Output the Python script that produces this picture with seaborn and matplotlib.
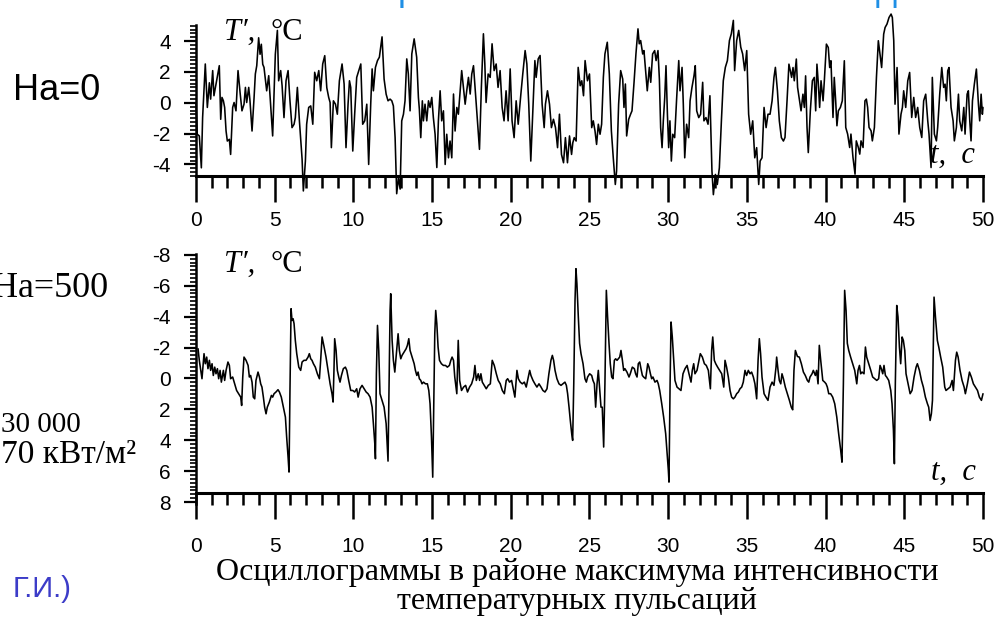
import numpy as np
import pandas as pd
import matplotlib
matplotlib.use("Agg")
import matplotlib.pyplot as plt
import seaborn as sns
from matplotlib.ticker import MultipleLocator, FixedLocator

# ---------------- data ----------------
top_t = [0.0, 0.08, 0.21, 0.34, 0.42, 0.59, 0.72, 0.85, 0.93, 1.06, 1.14, 1.27, 1.48, 1.57, 1.65, 1.74, 1.82, 1.91, 1.99, 2.12,
         2.20, 2.33, 2.42, 2.54, 2.67, 2.80, 2.92, 3.05, 3.14, 3.22, 3.35, 3.43, 3.56, 3.69, 3.77, 3.86, 3.98, 4.07, 4.15, 4.24,
         4.32, 4.49, 4.62, 4.75, 4.87, 5.04, 5.17, 5.25, 5.38, 5.47, 5.59, 5.72, 5.85, 5.97, 6.10, 6.23, 6.31, 6.44, 6.57, 6.74,
         6.82, 6.95, 7.03, 7.16, 7.29, 7.42, 7.54, 7.67, 7.80, 7.92, 8.05, 8.18, 8.31, 8.43, 8.52, 8.60, 8.73, 8.86, 8.98, 9.11,
         9.28, 9.41, 9.53, 9.66, 9.75, 9.83, 9.96, 10.08, 10.21, 10.34, 10.47, 10.59, 10.72, 10.85, 10.97, 11.10, 11.19, 11.27,
         11.40, 11.53, 11.65, 11.82, 11.95, 12.08, 12.20, 12.33,
         12.44, 12.54, 12.65, 12.75, 12.86, 12.97, 13.07, 13.18, 13.28, 13.39, 13.49, 13.60, 13.71, 13.86, 14.02, 14.13, 14.19,
         14.28, 14.38, 14.45, 14.55, 14.66, 14.77, 14.87, 14.98, 15.08, 15.19, 15.30, 15.40, 15.51, 15.61, 15.72, 15.83, 15.93,
         16.04, 16.14, 16.25, 16.36, 16.46, 16.57, 16.67, 16.78, 16.88, 16.99, 17.10, 17.20, 17.31, 17.42, 17.52, 17.63, 17.73,
         17.88, 18.01, 18.13, 18.26, 18.35, 18.43, 18.56, 18.69, 18.81, 18.94, 19.07, 19.19, 19.32, 19.45, 19.57, 19.70, 19.83,
         19.96, 20.08, 20.21, 20.34, 20.47, 20.64, 20.76, 20.91, 21.02, 21.14, 21.27, 21.40, 21.53, 21.61, 21.74, 21.86, 21.99,
         22.12, 22.20, 22.33, 22.46, 22.58, 22.71, 22.84, 22.97, 23.09, 23.22, 23.35, 23.47, 23.60, 23.73, 23.86, 23.94, 24.03,
         24.15, 24.28, 24.41, 24.51, 24.62, 24.72, 24.87, 25.00,
         25.14, 25.24, 25.35, 25.45, 25.56, 25.67, 25.77, 25.88, 25.98, 26.13, 26.26, 26.39, 26.51, 26.64, 26.72, 26.85, 26.98,
         27.11, 27.19, 27.28, 27.36, 27.49, 27.61, 27.70, 27.83, 27.95, 28.08, 28.16, 28.25, 28.38, 28.46, 28.55, 28.67, 28.80,
         28.89, 29.01, 29.14, 29.23, 29.35, 29.44, 29.52, 29.61, 29.69, 29.78, 29.86, 29.95, 30.03, 30.11, 30.20, 30.29, 30.41,
         30.54, 30.67, 30.75, 30.88, 30.96, 31.05, 31.17, 31.30, 31.39, 31.51, 31.64, 31.72, 31.81, 31.94, 32.06, 32.19, 32.27,
         32.40, 32.53, 32.65, 32.78, 32.87, 33.00, 33.12, 33.25, 33.38, 33.50, 33.63, 33.76, 33.89, 34.01, 34.14, 34.22, 34.35,
         34.48, 34.61, 34.73, 34.86, 34.99, 35.11, 35.24, 35.37, 35.50, 35.62, 35.75, 35.84, 35.96, 36.09, 36.22, 36.34, 36.47,
         36.60, 36.72, 36.81, 36.94, 37.06, 37.19, 37.32,
         37.42, 37.55, 37.67, 37.76, 37.84, 37.93, 38.01, 38.14, 38.22, 38.35, 38.44, 38.56, 38.65, 38.73, 38.82, 38.90, 39.03,
         39.16, 39.28, 39.37, 39.45, 39.54, 39.62, 39.71, 39.84, 39.92, 40.05, 40.17, 40.26, 40.34, 40.47, 40.55, 40.64, 40.72,
         40.81, 40.94, 41.06, 41.19, 41.28, 41.40, 41.53, 41.61, 41.74, 41.87, 41.95, 42.08, 42.17, 42.25, 42.38, 42.50, 42.59,
         42.67, 42.76, 42.89, 42.97, 43.10, 43.23, 43.35, 43.48, 43.56, 43.69, 43.78, 43.90, 44.03, 44.16, 44.24, 44.33, 44.41,
         44.54, 44.66, 44.79, 44.88, 44.96, 45.09, 45.22, 45.34, 45.47, 45.60, 45.72, 45.85, 45.98, 46.11, 46.23, 46.36, 46.49,
         46.57, 46.70, 46.78, 46.91, 47.04, 47.12, 47.25, 47.38, 47.50, 47.59, 47.67, 47.76, 47.84, 47.97, 48.10, 48.18, 48.31,
         48.44, 48.52, 48.65, 48.78, 48.86, 48.99, 49.07, 49.16, 49.24, 49.33, 49.45, 49.58, 49.71, 49.79, 49.88, 49.96, 50.00]
top_v = [0.0, -2.04, -2.15, -4.22, -0.96, 2.52, -0.30, 1.30, 0.24, 2.09, 0.46, 1.20, 2.41, -1.07, 0.35, 0.13, -0.30, -1.83, -2.48, -2.37,
         -3.35, -0.30, 0.02, -0.52, 2.09, 0.67, -0.52, -0.09, 1.0, 0.02, 1.0, 0.13, -1.83, 0.35, 1.87, 2.41, 4.22, 3.15, 3.80, 2.50,
         2.30, 0.78, 1.76, -0.30, -2.15, 3.15, 4.70, 1.43, 2.09, 1.11, -0.96, 1.43, 2.09, 0.13, -1.61, -1.39, -0.96, 1.0, -1.17, -3.65,
         -5.72, -3.78, -1.39, -0.30, -0.20, -1.39, 1.98, 1.43, 2.09, 0.78, 2.52, 3.06, 0.98, 0.35, 0.02, -2.91, 0.13, -0.09, -0.74, 1.43,
         2.52, 1.22, -2.91, -0.09, 1.43, 1.0, -3.13, -0.74, 1.65, 2.09, 2.52, -1.39, -1.17, -0.09, -4.0, -0.09, 2.20, 0.78,
         2.30, 2.74, 2.96, 4.28, 1.54, 0.56, 0.13, 0.24,
         0.13, -0.2, -2.26, -5.9, -4.87, -5.6, -1.17, -0.74, 0.13, 2.85, 1.87, -0.52, 3.17, 4.15, 2.96, 0.35, -0.41,
         -2.26, 0.13, -1.17, -0.09, -1.17, 0.13, -0.3, 0.35, -0.96, -2.04, -4.2, -1.17, 0.78, -1.17, -0.52, -4.0, -2.04,
         -3.57, -2.48, -3.57, 0.57, -1.83, -0.3, -0.74, 0.78, 2.09, 1.0, -0.09, 0.78, 1.65, 0.57, 1.87, 2.41, 1.0,
         -1.17, -3.02, 1.0, 4.48, 2.52, 0.02, 1.87, 1.65, 3.83, 2.09, 2.52, 1.0, 2.09, -0.3, -1.17, 0.78, -1.17,
         2.2, -1.17, -2.26, 0.13, -1.39, 0.57, 1.87, 3.39, 2.52, -0.09, -3.78, -0.52, 2.74, 1.65, 2.85, 3.07, -0.09,
         -1.61, -0.09, 0.78, -0.09, -1.61, -1.07, -1.61, -2.91, -0.74, -3.35, -3.89, -2.26, -3.89, -2.15, -3.35, -2.59, -2.26,
         -2.48, 2.30, 1.11, 1.43, 0.46, 2.74, 1.43, 1.87,
         -1.61, -1.17, -1.83, -2.7, -1.39, -2.04, -1.39, 1.65, 3.17, 3.93, 1.87, -1.83, -3.57, -5.3, -4.43, -0.09, 2.09,
         1.54, -0.3, 1.22, -2.15, -1.07, -0.74, -0.52, 1.33, 3.17, 4.8, 3.83, 4.04, 3.17, 3.39, 2.3, 0.78, 2.3,
         1.33, 3.17, 3.39, 2.74, 3.39, 1.54, -1.61, -2.91, -1.17, 0.35, 2.41, -0.74, -2.91, -1.17, -3.78, -2.04, -2.26,
         0.35, 2.74, 0.78, 2.3, -0.09, -3.57, -1.39, -2.26, 0.13, 1.0, 1.76, 2.41, -0.52, -0.96, -0.74, 1.33, -1.17,
         -0.96, -1.39, 0.46, -4.43, -5.96, -4.65, -5.3, -4.22, -1.17, 1.43, 2.3, 2.74, 4.04, 4.48, 5.35, 2.09, 4.04,
         4.7, 3.61, 3.17, 2.09, 3.39, -0.74, -2.04, -1.17, -3.57, -2.91, -5.3, -3.78, -3.57, -0.3, -1.61, -0.74, -0.74,
         0.13, 1.65, 2.3, 0.78, -1.17, -2.26, -2.48,
         -2.25, 0.13, 2.51, 2.08, 1.65, 2.29, 1.43, 2.84, 1.0, 0.13, -0.52, 0.56, -0.3, 1.75, -1.6, -3.23, -0.52,
         1.43, 1.65, -0.52, 2.51, 1.21, -0.3, 1.43, 0.13, 1.43, 3.81, 3.59, 2.29, 2.73, -0.95, 1.65, 0.13, -1.49,
         -0.52, -0.3, 0.13, 2.73, -1.6, -2.03, -2.9, -2.03, -3.55, -4.63, -2.47, -2.9, -3.33, -2.47, -2.9, 0.13, 0.24,
         -0.3, -1.6, -1.82, -2.47, -1.6, 1.65, 4.03, 2.94, 2.29, 4.46, 4.89, 5.11, 5.54, 5.76, 5.54, 4.03, -0.09,
         2.29, -2.03, -0.74, -0.3, 0.78, -0.3, 1.43, 1.97, -0.95, 0.35, -0.95, -0.3, -1.6, -2.25, 0.13, 0.56, -1.17,
         -2.03, -4.2, 1.65, -2.03, -2.47, -1.6, 0.56, 2.29, 1.0, 1.21, 0.13, 2.08, 2.29, -0.3, -1.17, -2.47, -1.6,
         0.56, -1.17, -1.82, -0.3, -2.03, 0.56, 0.78, -1.17, -2.47, 0.13, 1.21, 2.19, -0.09, -1.17, 0.56, -0.74, -0.3]

bot_t = [0.13, 0.21, 0.38, 0.51, 0.59, 0.68, 0.76, 0.85, 0.93, 1.02, 1.10, 1.19, 1.27, 1.36, 1.44, 1.53, 1.61, 1.74, 1.82, 1.91,
         2.03, 2.12, 2.20, 2.33, 2.46, 2.58, 2.71, 2.84, 2.90, 2.97, 3.05, 3.18, 3.31, 3.39, 3.47, 3.56, 3.64, 3.73, 3.81, 3.94,
         4.03, 4.11, 4.19, 4.28, 4.36, 4.45, 4.53, 4.66, 4.79, 4.87, 4.96, 5.08, 5.21, 5.30, 5.42, 5.55, 5.68, 5.76, 5.85, 5.91,
         5.97, 6.04, 6.10, 6.17, 6.23, 6.31, 6.40, 6.53, 6.65, 6.74, 6.86, 6.99, 7.12, 7.20, 7.29, 7.37, 7.46, 7.58, 7.71, 7.84,
         7.92, 8.01, 8.14, 8.26, 8.39, 8.52, 8.64, 8.71, 8.77, 8.81, 8.90, 8.98, 9.07, 9.15, 9.24, 9.36, 9.49, 9.58, 9.70, 9.83,
         9.96, 10.08, 10.21, 10.30, 10.42, 10.55, 10.68, 10.81, 10.93, 11.06, 11.19, 11.27, 11.36, 11.40, 11.46, 11.53, 11.61,
         11.69, 11.82, 11.95, 12.08, 12.20, 12.27, 12.33, 12.37, 12.46, 12.54, 12.63, 12.75, 12.84, 12.92, 13.01, 13.09, 13.22,
         13.35, 13.43, 13.52, 13.60, 13.73, 13.86, 13.94, 14.03, 14.11, 14.19, 14.28, 14.36, 14.45, 14.58, 14.70, 14.79, 14.87,
         14.96, 15.04, 15.11, 15.17, 15.23, 15.30, 15.38, 15.47, 15.59, 15.72, 15.85, 15.97, 16.10, 16.19, 16.27, 16.36, 16.44,
         16.57,
         16.66, 16.75, 16.87, 17.00, 17.13, 17.25, 17.38, 17.51, 17.64, 17.72, 17.81, 17.93, 18.02, 18.10, 18.19, 18.31, 18.44,
         18.57, 18.70, 18.82, 18.95, 19.08, 19.20, 19.33, 19.46, 19.59, 19.71, 19.80, 19.92, 20.05, 20.18, 20.26, 20.39, 20.48,
         20.60, 20.73, 20.86, 20.98, 21.07, 21.20, 21.28, 21.41, 21.53, 21.66, 21.79, 21.92, 22.04, 22.17, 22.30, 22.42, 22.55,
         22.64, 22.72, 22.81, 22.93, 23.06, 23.19, 23.31, 23.44, 23.53, 23.61, 23.70, 23.78, 23.87, 23.93, 24.00, 24.08, 24.14,
         24.20, 24.29, 24.37, 24.46, 24.59, 24.71, 24.80, 24.88, 25.01, 25.14, 25.22, 25.31, 25.39, 25.48, 25.56, 25.65, 25.73,
         25.81, 25.90, 25.98, 26.07, 26.15, 26.24, 26.32, 26.41, 26.49, 26.58, 26.66, 26.75, 26.83, 26.92, 27.00, 27.09, 27.17,
         27.25, 27.38, 27.51, 27.59, 27.72, 27.85, 27.93, 28.02, 28.10, 28.19, 28.27, 28.36, 28.44, 28.57, 28.70, 28.78, 28.87,
         28.95, 29.03, 29.16, 29.29, 29.37, 29.46, 29.59, 29.71, 29.84, 29.92, 30.01, 30.05, 30.12, 30.18, 30.26, 30.35, 30.43,
         30.56, 30.69, 30.81, 30.94, 31.07, 31.20, 31.32, 31.45, 31.53, 31.62, 31.70, 31.83, 31.96, 32.04, 32.17, 32.30, 32.42,
         32.55, 32.68, 32.76, 32.83, 32.93, 33.02, 33.14, 33.27, 33.40, 33.53,
         33.61, 33.71, 33.82, 33.93, 34.03, 34.14, 34.24, 34.35, 34.46, 34.56, 34.67, 34.77, 34.88, 34.98, 35.09, 35.20, 35.30,
         35.41, 35.51, 35.62, 35.71, 35.79, 35.87, 35.96, 36.09, 36.21, 36.34, 36.47, 36.60, 36.72, 36.85, 36.89, 36.98, 37.06,
         37.15, 37.23, 37.32, 37.44, 37.57, 37.70, 37.82, 37.91, 37.99, 38.08, 38.21, 38.33, 38.46, 38.59, 38.71, 38.84, 38.93,
         39.01, 39.14, 39.22, 39.35, 39.43, 39.52, 39.60, 39.69, 39.82, 39.94, 40.03, 40.11, 40.20, 40.32, 40.45, 40.58, 40.71,
         40.83, 40.96, 41.04, 41.13, 41.21, 41.30, 41.38, 41.47, 41.59, 41.72, 41.85, 41.98, 42.06, 42.15, 42.23, 42.32, 42.44,
         42.53, 42.61, 42.74, 42.87, 42.99, 43.12, 43.25, 43.37, 43.46, 43.54, 43.63, 43.71, 43.80, 43.88, 44.01, 44.14, 44.22,
         44.31, 44.37, 44.43, 44.52, 44.60, 44.69, 44.77, 44.86, 44.94, 45.03, 45.11, 45.24, 45.37, 45.49, 45.62, 45.75, 45.83,
         45.96, 46.09, 46.21, 46.34, 46.47, 46.55, 46.64, 46.72, 46.79, 46.85, 46.89, 46.98, 47.10, 47.19, 47.31, 47.44, 47.57,
         47.65, 47.78, 47.91, 48.04, 48.12, 48.25, 48.33, 48.42, 48.54, 48.67, 48.80, 48.88, 49.01, 49.14, 49.26, 49.39, 49.52,
         49.65, 49.77, 49.90, 50.00]
bot_v = [-1.92, -1.17, 0.02, -1.6, -0.95, -1.38, -0.63, -1.17, -0.52, -0.95, -0.19, -0.73, -0.3, -0.63, 0.02, -0.52, 0.24, -0.52, 0.13, -0.52,
         -1.06, -0.84, 0.02, -0.09, 0.35, 0.78, 0.99, 1.21, 1.75, -0.09, -1.38, -1.17, -0.84, -0.09, -0.19, 0.24, 1.21, 1.32, 0.13, -0.41,
         -0.09, 0.35, 0.56, 1.21, 1.86, 2.29, 1.86, 1.53, 1.1, 1.21, 0.99, 0.88, 0.73, 0.88, 1.21, 1.86, 2.5, 3.8, 5.09, 6.06,
         0.78, -4.51, -3.75, -3.86, -3.54, -2.46, -1.6, -0.73, -0.52, -1.06, -1.17, -1.17, -1.38, -1.6, -1.27, -1.17, -0.95, -0.73, -0.3, 0.02,
         -1.17, -2.68, -2.03, -1.38, -0.52, 0.35, 0.99, 1.53, -0.73, -2.57, -1.81, -0.52, -0.09, 0.24, -0.19, -0.63, -0.73, -0.52, 0.13, 0.78,
         0.78, 0.88, 0.67, 1.21, 0.67, 0.45, 0.67, 0.88, 0.99, 1.21, 1.86, 2.93, 4.23, 5.2, -0.3, -3.43, -1.81,
         0.99, 1.42, 1.86, 2.93, 5.35, 0.35, -4.4, -5.48, -2.46, -1.17, -0.41, -1.81, -2.89, -1.81, -1.27, -1.49, -1.7,
         -1.92, -2.14, -2.57, -1.81, -1.38, -0.95, -0.52, -0.19, -0.41, 0.02, 0.13, 0.35, 0.24, 0.35, 0.35, 0.78, 1.64,
         3.8, 6.39, 1.42, -2.89, -4.4, -3.54, -2.03, -1.17, -0.95, -0.84, -0.84, -0.73, -0.84, -1.17, -1.38, -1.17, -0.09,
         0.99,
         -2.46, 0.13, 0.78, 0.56, 0.45, 0.88, 0.56, 0.35, -0.09, -0.84, 0.13, -0.3, 0.13, -0.3, 0.24, 0.45, 0.67,
         0.45, 0.35, -1.17, -0.84, -0.3, 0.13, 0.35, 0.78, 0.99, 0.13, 0.02, 0.24, 0.13, 0.78, 1.21, -0.52, 0.02,
         0.24, 0.35, 0.24, 0.56, 0.13, -0.52, -0.19, 0.13, 0.35, 0.56, 0.35, 0.56, 0.78, 0.88, 0.67, -0.3, -1.17,
         -1.49, -1.17, -0.52, 0.02, 0.35, 0.45, 0.35, 0.24, 0.45, 0.99, 1.86, 2.72, 3.58, 4.01, 0.35, -5.05, -7.1,
         -6.13, -3.97, -2.27, -1.6, -0.95, 0.02, 0.24, -0.09, -0.3, -0.19, 0.13, 0.35, 1.86, 0.35, -0.52, 0.78, 1.86,
         1.86, 4.44, 0.35, -5.7, -3.97, -2.25, -0.95, -0.09, 0.02, -1.17, -1.27, -1.17, -1.27, -1.38, -1.81, -1.17, -0.52,
         -0.63, -0.41, -0.09, -0.3, -0.73, -0.63, -0.3, -0.09, -0.95, -1.06, -0.63, -0.19, -0.09, 0.02, -0.95, -0.73, -0.3,
         0.02, -0.09, 0.24, 0.13, 0.35, 0.78, 1.64, 2.5, 3.58, 4.66, 5.95, 6.71, 0.35, -3.65, -2.68, -1.17, 0.13,
         0.56, 0.67, 0.78, -0.3, -0.63, -0.84, -0.3, 0.24, -0.52, -0.95, -0.3, -0.52, -1.17, -1.6, -1.38, -0.95, -0.84,
         -0.52, 0.67, -1.81, -2.68, -1.17, -0.95, -0.73, -0.52, -0.3, 0.56,
         -1.17, -0.73, -0.09, 0.78, 1.21, 1.32, 1.21, 0.99, 0.88, 0.67, 0.56, 0.24, -0.52, -0.19, -0.52, -0.3, -0.41,
         -0.09, 0.35, 1.32, -1.17, -2.57, -1.6, -0.09, 0.99, 1.21, 1.42, 0.56, 0.24, 0.45, -0.73, -1.38, -0.52, 0.13,
         0.35, -0.3, 0.02, 0.56, 0.99, 1.42, 1.86, 2.03, -0.52, -1.81, -1.42, -1.38, -0.95, -0.41, -0.19, 0.13, 0.24,
         -0.09, -0.3, -0.52, -0.19, -0.52, 0.35, -2.14, -1.17, 0.13, 0.24, 0.35, 0.56, 0.99, 0.99, 1.21, 1.64, 2.5,
         3.58, 4.66, 5.42, 0.35, -5.7, -4.4, -2.27, -1.81, -1.38, -0.95, -0.52, 0.35, -0.52, -0.84, -0.3, -0.41, -0.3,
         -2.03, -1.38, -0.95, -0.52, -0.09, 0.02, 0.13, 0.02, -0.84, -0.63, -0.3, -0.84, -0.19, -0.09, 0.13, 0.78, 1.64,
         3.37, 5.52, 0.35, -4.72, -3.97, -2.03, -0.95, -2.68, -2.46, -1.81, -0.3, 0.35, 0.99, 0.78, -0.09, -0.73, -0.95,
         -0.52, 0.13, 0.56, 1.21, 1.64, 1.86, 2.72, 2.29, 1.42, -2.89, -5.26, -3.97, -2.46, -2.03, -1.38, -0.73, 0.56,
         0.78, 0.67, 0.56, 0.13, 0.78, -1.17, -1.7, -1.38, -0.52, 0.13, 0.56, 0.99, 0.35, -0.41, -0.09, 0.35, 0.56,
         0.78, 1.21, 1.42, 0.99]

x_major = [0, 5, 10, 15, 20, 25, 30, 35, 40, 45, 50]
top_y_ticks = [-4, -2, 0, 2, 4]
bot_y_ticks = [-8, -6, -4, -2, 0, 2, 4, 6, 8]

# ---------------- style ----------------
sns.set_style("ticks")
plt.rcParams["font.family"] = ["Liberation Sans", "DejaVu Sans"]
plt.rcParams["axes.unicode_minus"] = False
plt.rcParams["text.color"] = "black"
plt.rcParams["xtick.color"] = "black"
plt.rcParams["ytick.color"] = "black"
plt.rcParams["axes.edgecolor"] = "black"

W, H = 995, 623
fig = plt.figure(figsize=(W / 100, H / 100), dpi=100)

def fx(px):
    return px / W

def fy(py):
    return 1 - py / H

SERIF = ["Liberation Serif", "DejaVu Serif"]
SANS = ["Liberation Sans", "DejaVu Sans"]

def style_axis(ax, yt, x_pad):
    for s in ("top", "right"):
        ax.spines[s].set_visible(False)
    ax.spines["bottom"].set_linewidth(2.2)
    ax.spines["left"].set_linewidth(1.8)
    ax.set_xlim(0, 50)
    ax.xaxis.set_major_locator(FixedLocator(x_major))
    ax.xaxis.set_minor_locator(MultipleLocator(1))
    ax.yaxis.set_major_locator(FixedLocator(yt))
    ax.yaxis.set_minor_locator(MultipleLocator(0.25))
    ax.tick_params(axis="x", which="major", direction="out", length=18.5, width=1.8,
                   pad=x_pad, labelsize=15)
    ax.tick_params(axis="x", which="minor", direction="out", length=8.5, width=1.8)
    ax.tick_params(axis="y", which="major", direction="out", length=9, width=1.6,
                   pad=9, labelsize=15)
    ax.tick_params(axis="y", which="minor", direction="out", length=4, width=1.2)
    ax.set_xlabel("")
    ax.set_ylabel("")
    ax.set_facecolor("none")
    ax.grid(False)

# ---------------- top oscillogram (Ha=0) ----------------
ax1 = fig.add_axes([fx(196), fy(176), (983 - 196) / W, (176 - 25) / H])
sns.lineplot(x=top_t, y=top_v, ax=ax1, color="black", linewidth=1.15,
             estimator=None, sort=False)
ax1.lines[-1].set_clip_on(False)
ax1.set_ylim(-4.75, 5.05)
style_axis(ax1, top_y_ticks, 7)

# ---------------- bottom oscillogram (Ha=500) ----------------
ax2 = fig.add_axes([fx(196), fy(503.6), (983 - 196) / W, (503.6 - 254) / H])
sns.lineplot(x=bot_t, y=bot_v, ax=ax2, color="black", linewidth=1.15,
             estimator=None, sort=False)
ax2.lines[-1].set_clip_on(False)
ax2.set_ylim(8.1, -8.05)
style_axis(ax2, bot_y_ticks, 13.5)
ax2.spines["bottom"].set_position(("data", 7.4))

# ---------------- axis captions ----------------
for base in (40, 272):
    fig.text(fx(224), fy(base), "T′,", fontsize=22, fontstyle="italic",
             family=SERIF, va="baseline", ha="left")
    fig.text(fx(271), fy(base), "°C", fontsize=22, family=SERIF,
             va="baseline", ha="left")
fig.text(fx(930), fy(163), "t,  c", fontsize=22, fontstyle="italic",
         family=SERIF, va="baseline", ha="left")
fig.text(fx(931), fy(480), "t,  c", fontsize=22, fontstyle="italic",
         family=SERIF, va="baseline", ha="left")

# ---------------- side annotations ----------------
fig.text(fx(13), fy(100), "Ha=0", fontsize=26, va="baseline", ha="left", family=SANS)
fig.text(fx(108), fy(297), "Ha=500", fontsize=26, va="baseline", ha="right",
         family=SERIF)
fig.text(fx(81), fy(432), "30 000", fontsize=21, va="baseline", ha="right",
         family=SERIF)
fig.text(fx(136), fy(463), "70 кВт/м²", fontsize=24, va="baseline", ha="right",
         family=SERIF)
fig.text(fx(72), fy(597), "Г.И.)", fontsize=21, va="baseline", ha="right",
         color="#3c3cc8", family=SANS)

# fragments of a cut-off blue heading at the very top
fig.text(fx(398), fy(0), "р", fontsize=26, va="baseline", ha="left",
         color="#1f8fe5", family=SANS)
fig.text(fx(876), fy(0), "д", fontsize=26, va="baseline", ha="left",
         color="#1f8fe5", family=SANS)

# ---------------- caption ----------------
fig.text(fx(577), fy(580), "Осциллограммы в районе максимума интенсивности",
         fontsize=23, va="baseline", ha="center", family=SERIF)
fig.text(fx(577), fy(609), "температурных пульсаций",
         fontsize=23, va="baseline", ha="center", family=SERIF)

fig.savefig("out.png", dpi=100, facecolor="white")
